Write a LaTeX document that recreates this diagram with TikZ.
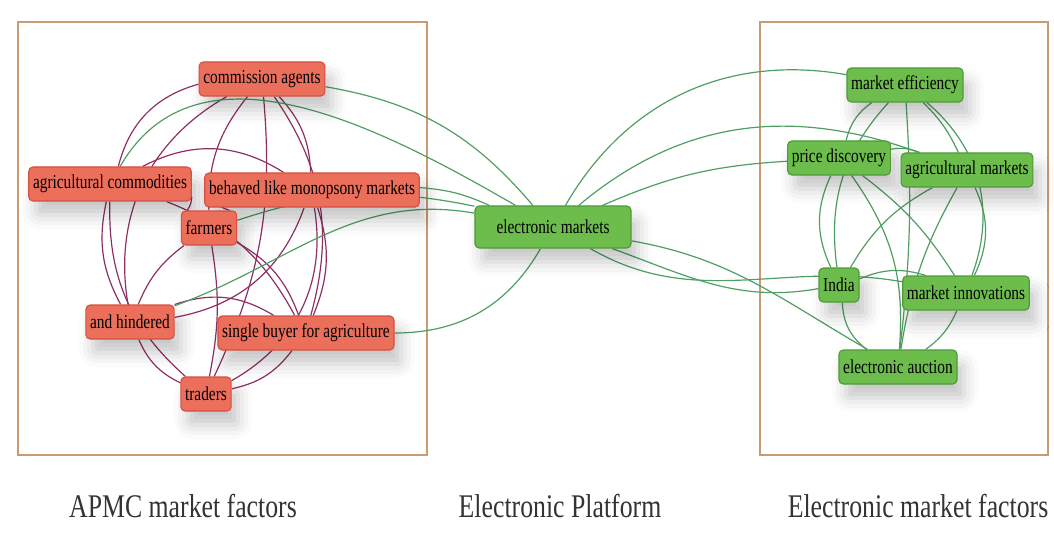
\documentclass[tikz,border=0pt]{standalone}
\usepackage{fontspec}
\setmainfont{Liberation Serif}
\newfontfamily\condfont[FakeStretch=0.78]{Liberation Serif}
\usetikzlibrary{shadows.blur, backgrounds}

\definecolor{apmcfill}{HTML}{EC6F5C}
\definecolor{apmcline}{HTML}{D4503F}
\definecolor{emfill}{HTML}{6CBD4C}
\definecolor{emline}{HTML}{4E9A3A}
\definecolor{purpleedge}{HTML}{8E2F63}
\definecolor{greenedge}{HTML}{4F9E62}
\definecolor{framecol}{HTML}{CC9A70}

\tikzset{
  factor/.style={rounded corners=3pt, inner xsep=3pt, minimum height=0.85cm,
    font=\condfont\fontsize{14}{15}\selectfont, line width=0.8pt,
    blur shadow={shadow xshift=5pt, shadow yshift=-10pt,
      shadow blur radius=10pt, shadow opacity=22}},
  apmc/.style={factor, draw=apmcline, fill=apmcfill},
  emk/.style={factor, draw=emline, fill=emfill},
  apmcedge/.style={draw=purpleedge, line width=0.85pt},
  emedge/.style={draw=greenedge, line width=0.85pt},
  caption/.style={font=\condfont\fontsize{23.5}{26}\selectfont, text=black!80}
}

\begin{document}
\begin{tikzpicture}[x=0.025cm, y=-0.025cm]
  \useasboundingbox (0,0) rectangle (1054,534);

  % APMC market factors
  \node[apmc] (ca) at (262,79)  {commission agents};
  \node[apmc] (ac) at (110,184) {agricultural commodities};
  \node[apmc] (bl) at (312,190) {behaved like monopsony markets};
  \node[apmc] (fa) at (209,228) {farmers};
  \node[apmc] (ah) at (130,322) {and hindered};
  \node[apmc] (sb) at (306,333) {single buyer for agriculture};
  \node[apmc] (tr) at (206,394) {traders};

  % platform
  \node[emk, minimum height=1.05cm, minimum width=3.9cm] (em) at (553,227) {electronic markets};

  % electronic market factors
  \node[emk] (me) at (905,85)  {market efficiency};
  \node[emk] (pd) at (839,158) {price discovery};
  \node[emk] (am) at (967,170) {agricultural markets};
  \node[emk] (in) at (839,285) {India};
  \node[emk] (mi) at (966,293) {market innovations};
  \node[emk] (ea) at (898,367) {electronic auction};

  \begin{scope}[on background layer]
  % frames
  \draw[framecol, line width=0.8pt] (18,22) rectangle (427,455);
  \draw[framecol, line width=0.8pt] (760,22) rectangle (1048,455);
  \path[apmcedge]
    (ca) edge[bend right=30] (ac) edge[bend left=20] (bl) edge[bend right=20] (fa)
         edge[bend right=35] (ah) edge[bend left=25] (sb) edge[bend left=15] (tr)
    (ac) edge[bend left=30] (bl) edge[bend left=15] (fa) edge[bend right=20] (ah)
         edge[bend left=20] (sb) edge[bend right=25] (tr)
    (bl) edge[bend right=20] (fa) edge[bend left=30] (ah) edge[bend left=20] (sb)
         edge[bend left=35] (tr)
    (fa) edge[bend right=15] (ah) edge[bend left=20] (sb) edge[bend left=10] (tr)
    (ah) edge[bend left=25] (sb) edge[bend right=20] (tr)
    (sb) edge[bend left=20] (tr);
  \path[emedge]
    (ca) edge[bend left=20] (em)
    (ac) edge[out=60, in=150] (em)
    (bl) edge[bend left=10] (em)
    (fa) edge[bend left=15] (em)
    (ah) edge[out=20, in=170] (em)
    (sb) edge[out=0, in=-120] (em)
    (em) edge[out=60, in=170] (me) edge[bend left=10] (pd)
         edge[out=40, in=160] (am) edge[out=-20, in=190] (in)
         edge[out=-30, in=170] (mi) edge[out=-10, in=150] (ea);
  \path[emedge]
    (me) edge[bend right=20] (pd) edge[bend left=10] (am) edge[bend right=25] (in)
         edge[bend left=35] (mi) edge[bend left=5] (ea)
    (pd) edge[bend left=15] (am) edge[bend right=25] (in) edge[bend left=10] (mi)
         edge[bend left=20] (ea)
    (am) edge[bend right=15] (in) edge[bend left=25] (mi) edge[bend right=10] (ea)
    (in) edge[bend left=20] (mi) edge[bend right=25] (ea)
    (mi) edge[bend left=15] (ea);
  \end{scope}

  % captions
  \node[caption] (capl) at (183,506) {APMC market factors};
  \node[caption] (capm) at (560,506) {Electronic Platform};
  \node[caption] (capr) at (918,506) {Electronic market factors};
\end{tikzpicture}
\end{document}
